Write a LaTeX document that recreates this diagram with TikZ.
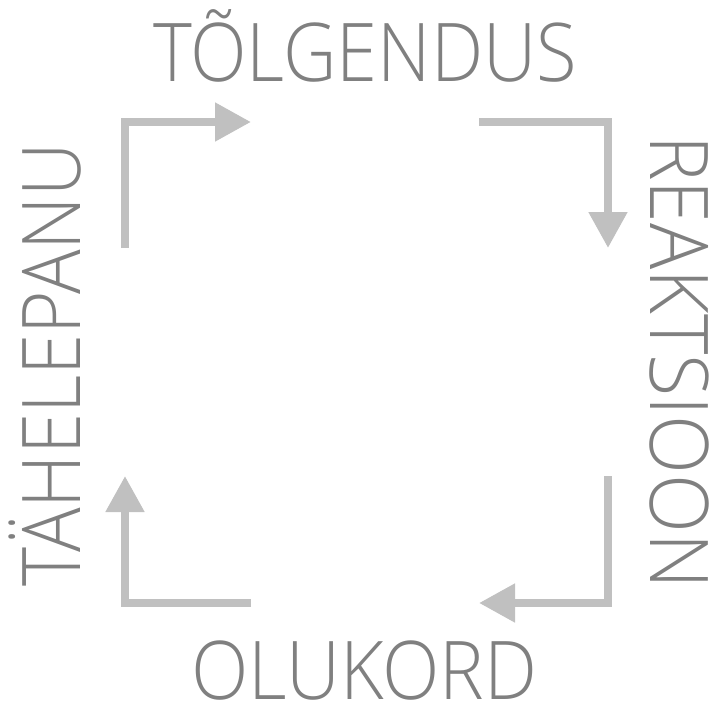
\documentclass[tikz,border=0pt]{standalone}
\usepackage{fontspec}
\setmainfont{Open Sans Light}
\usetikzlibrary{arrows.meta}
\definecolor{txtgray}{HTML}{808080}
\definecolor{arrgray}{HTML}{C0C0C0}
\begin{document}
\begin{tikzpicture}[x=1pt,y=-1pt,
  lbl/.style={inner sep=0pt,anchor=base,text=txtgray,font=\fontsize{81}{81}\selectfont},
  cyc/.style={draw=arrgray,line width=8pt,line join=miter,-{Triangle[length=36pt,width=37pt]}}]
\useasboundingbox (0,0) rectangle (717,704);
\node[lbl] (top) at (365,81) {\scalebox{0.913}[1]{TÕLGENDUS}};
\node[lbl] (bot) at (364,699) {\scalebox{0.926}[1]{OLUKORD}};
\node[lbl,rotate=90] (left) at (80,365) {\scalebox{0.917}[1]{TÄHELEPANU}};
\node[lbl,rotate=-90] (right) at (650,362) {\scalebox{0.95}[1]{REAKTSIOON}};
\coordinate (a1s) at (125,248); \coordinate (a1c) at (125,122); \coordinate (a1e) at (251,122);
\coordinate (a2s) at (479,122); \coordinate (a2c) at (608,122); \coordinate (a2e) at (608,248);
\coordinate (a3s) at (608,476); \coordinate (a3c) at (608,603); \coordinate (a3e) at (479,603);
\coordinate (a4s) at (251,603); \coordinate (a4c) at (125,603); \coordinate (a4e) at (125,476);
\draw[cyc] (a1s) -- (a1c) -- (a1e);
\draw[cyc] (a2s) -- (a2c) -- (a2e);
\draw[cyc] (a3s) -- (a3c) -- (a3e);
\draw[cyc] (a4s) -- (a4c) -- (a4e);
\end{tikzpicture}
\end{document}
